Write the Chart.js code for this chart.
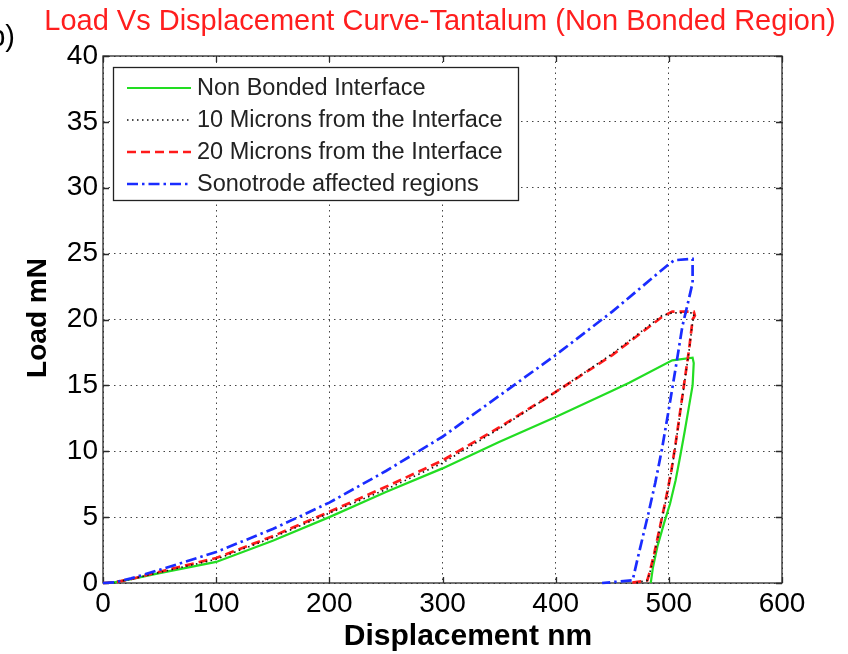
<!DOCTYPE html>
<html>
<head>
<meta charset="utf-8">
<script src="https://cdn.jsdelivr.net/npm/chart.js@4.4.1/dist/chart.umd.min.js"></script>
<style>
  html, body { margin: 0; padding: 0; background: #fff; }
  #wrap { width: 848px; height: 654px; }
</style>
</head>
<body>
<div id="wrap"><canvas id="c" width="848" height="654"></canvas></div>
<script>
// Nanoindentation load–displacement curves (loading, hold, unloading)
const seriesLabels = [
  'Non Bonded Interface',
  '10 Microns from the Interface',
  '20 Microns from the Interface',
  'Sonotrode affected regions'
];

const nonBondedX = [0, 10, 25, 50, 100, 150, 200, 250, 300, 350, 400, 450, 465, 503, 521, 522, 521, 518, 514, 510, 506, 501, 496, 490, 486, 484];
const nonBondedY = [0, 0.05, 0.3, 0.75, 1.6, 3.2, 5.0, 6.9, 8.7, 10.7, 12.6, 14.6, 15.2, 16.9, 17.1, 16.7, 15.0, 13.5, 11.5, 9.6, 7.8, 6.0, 4.6, 2.8, 1.2, 0];

const micron10X = [0, 10, 25, 50, 100, 150, 200, 250, 300, 350, 400, 450, 494, 503, 522, 522, 521, 518, 514, 510, 506, 502, 497, 492, 487, 483, 481, 470];
const micron10Y = [0, 0.05, 0.3, 0.8, 1.8, 3.45, 5.3, 7.1, 9.1, 11.7, 14.5, 17.4, 20.3, 20.5, 20.5, 20.2, 19.8, 17.7, 15.3, 12.9, 10.5, 8.3, 6.1, 4.1, 2.1, 0.7, 0.2, 0];

const micron20X = [0, 10, 25, 50, 100, 150, 200, 250, 300, 350, 400, 450, 494, 503, 522, 523, 521, 518, 514, 510, 506, 502, 497, 492, 487, 483, 481, 466];
const micron20Y = [0, 0.05, 0.3, 0.85, 1.9, 3.55, 5.4, 7.3, 9.3, 11.8, 14.5, 17.3, 20.2, 20.6, 20.6, 20.3, 20.0, 17.8, 15.4, 13.0, 10.6, 8.4, 6.2, 4.2, 2.2, 0.8, 0.2, 0];

const sonotrodeX = [0, 10, 25, 50, 100, 150, 200, 250, 300, 350, 400, 450, 475, 500, 505, 521, 521, 517, 512, 506, 500, 494, 488, 482, 477, 472, 468, 441];
const sonotrodeY = [0, 0.05, 0.35, 1.0, 2.35, 4.1, 6.1, 8.5, 11.1, 14.2, 17.3, 20.6, 22.4, 24.2, 24.5, 24.6, 22.8, 21.3, 19.5, 16.3, 13.2, 10.2, 7.6, 5.3, 3.5, 1.7, 0.2, 0];

const xTicks = [0, 100, 200, 300, 400, 500, 600];
const yTicks = [0, 5, 10, 15, 20, 25, 30, 35, 40];

const FONT = "'Liberation Sans', Arial, Helvetica, sans-serif";

function pts(xs, ys) { return xs.map((v, i) => ({ x: v, y: ys[i] })); }

// Box around the axes with inward tick marks on all four sides
const framePlugin = {
  id: 'frame',
  beforeDatasetsDraw(chart) {
    const { ctx, chartArea: a, scales: { x, y } } = chart;
    ctx.save();
    ctx.strokeStyle = '#2a2a2a';
    ctx.lineWidth = 1.3;
    ctx.strokeRect(a.left, a.top, a.right - a.left, a.bottom - a.top);
    const L = 6;
    ctx.beginPath();
    x.ticks.forEach(t => {
      const px = Math.round(x.getPixelForValue(t.value)) + 0.5;
      ctx.moveTo(px, a.bottom); ctx.lineTo(px, a.bottom - L);
      ctx.moveTo(px, a.top); ctx.lineTo(px, a.top + L);
    });
    y.ticks.forEach(t => {
      const py = Math.round(y.getPixelForValue(t.value)) + 0.5;
      ctx.moveTo(a.left, py); ctx.lineTo(a.left + L, py);
      ctx.moveTo(a.right, py); ctx.lineTo(a.right - L, py);
    });
    ctx.stroke();
    ctx.restore();
  }
};

// Title, axis titles and the boxed legend
const textPlugin = {
  id: 'texts',
  afterDraw(chart) {
    const { ctx } = chart;
    ctx.save();
    ctx.fillStyle = '#ff1e1e';
    ctx.font = `29px ${FONT}`;
    ctx.textAlign = 'center';
    ctx.textBaseline = 'middle';
    ctx.fillText('Load Vs Displacement Curve-Tantalum (Non Bonded Region)', 440, 22);

    ctx.fillStyle = '#000';
    ctx.textAlign = 'right';
    ctx.fillText('b)', 15, 38);

    ctx.font = `bold 30px ${FONT}`;
    ctx.textAlign = 'center';
    ctx.fillText('Displacement nm', 468, 637);
    ctx.font = `bold 28px ${FONT}`;
    ctx.save();
    ctx.translate(38, 318);
    ctx.rotate(-Math.PI / 2);
    ctx.fillText('Load mN', 0, 0);
    ctx.restore();

    // legend
    const lx = 113, ly = 67, lw = 405, lh = 133;
    ctx.fillStyle = '#fff';
    ctx.fillRect(lx, ly, lw, lh);
    ctx.strokeStyle = '#222';
    ctx.lineWidth = 1.3;
    ctx.strokeRect(lx + 0.5, ly + 0.5, lw, lh);
    const rows = [88, 120, 152, 184];
    ctx.font = `23.5px ${FONT}`;
    ctx.textAlign = 'left';
    chart.data.datasets.forEach((ds, i) => {
      const yy = rows[i];
      ctx.save();
      ctx.strokeStyle = ds.borderColor;
      ctx.lineWidth = ds.borderWidth;
      ctx.setLineDash(ds.borderDash || []);
      ctx.beginPath();
      ctx.moveTo(127, yy);
      ctx.lineTo(191, yy);
      ctx.stroke();
      ctx.restore();
      ctx.fillStyle = '#222';
      ctx.fillText(ds.label, 197, yy + 1);
    });
    ctx.restore();
  }
};

const lineCommon = { showLine: true, pointRadius: 0, fill: false, tension: 0, clip: false };

new Chart(document.getElementById('c'), {
  type: 'scatter',
  data: {
    datasets: [
      { ...lineCommon, label: seriesLabels[0], data: pts(nonBondedX, nonBondedY),
        borderColor: '#22dd22', borderWidth: 2.2, borderDash: [], order: 4 },
      { ...lineCommon, label: seriesLabels[1], data: pts(micron10X, micron10Y),
        borderColor: '#111', borderWidth: 1.6, borderDash: [1.5, 3.5], order: 1 },
      { ...lineCommon, label: seriesLabels[2], data: pts(micron20X, micron20Y),
        borderColor: '#ff1a1a', borderWidth: 2.7, borderDash: [9, 5], order: 2 },
      { ...lineCommon, label: seriesLabels[3], data: pts(sonotrodeX, sonotrodeY),
        borderColor: '#1a2cff', borderWidth: 2.7, borderDash: [11, 4, 2.5, 4], order: 0 }
    ]
  },
  options: {
    responsive: false,
    animation: false,
    devicePixelRatio: 1,
    layout: { padding: { top: 56, right: 66, left: 0, bottom: 0 } },
    plugins: { legend: { display: false }, title: { display: false }, tooltip: { enabled: false } },
    scales: {
      x: {
        type: 'linear', min: 0, max: 600,
        afterBuildTicks: s => { s.ticks = xTicks.map(v => ({ value: v })); },
        afterFit: s => { s.height = 71; },
        ticks: { color: '#000', font: { family: FONT, size: 28 }, padding: 4, maxRotation: 0 },
        grid: { color: '#444', lineWidth: 1, drawTicks: false },
        border: { display: false, dash: [1.5, 4] }
      },
      y: {
        type: 'linear', min: 0, max: 40,
        afterBuildTicks: s => { s.ticks = yTicks.map(v => ({ value: v })); },
        afterFit: s => { s.width = 103; },
        ticks: { color: '#000', font: { family: FONT, size: 28 }, padding: 5 },
        grid: { color: '#444', lineWidth: 1, drawTicks: false },
        border: { display: false, dash: [1.5, 4] }
      }
    }
  },
  plugins: [framePlugin, textPlugin]
});
</script>
</body>
</html>
